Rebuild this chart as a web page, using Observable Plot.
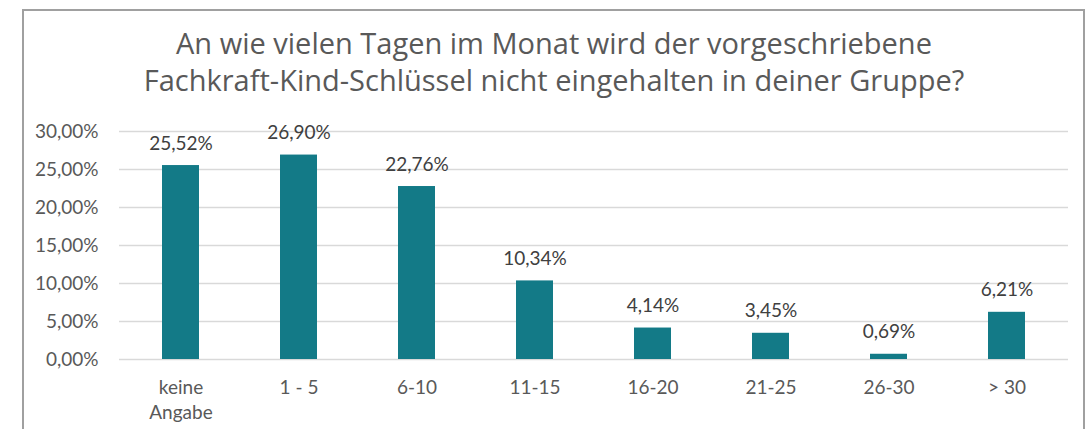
<!DOCTYPE html>
<html>
<head>
<meta charset="utf-8">
<script src="https://cdn.jsdelivr.net/npm/d3@7"></script>
<script src="https://cdn.jsdelivr.net/npm/@observablehq/plot@0.6"></script>
<style>
  html, body { margin: 0; padding: 0; background: #fff; }
  #wrap { position: relative; width: 1091px; height: 429px; overflow: hidden; }
  #frame { position: absolute; left: 22px; top: 9px; width: 1063px; height: 440px; border: 2px solid #a0a0a0; box-sizing: border-box; }
  #title { position: absolute; left: 23px; top: 24px; width: 1062px; text-align: center;
    font-family: "Open Sans", sans-serif; font-size: 29px; line-height: 37px; color: #595959; }
  #chart { position: absolute; left: 0; top: 0; }
</style>
</head>
<body>
<div id="wrap">
  <div id="frame"></div>
  <div id="chart"></div>
  <div id="title">An wie vielen Tagen im Monat wird der vorgeschriebene<br>Fachkraft-Kind-Schlüssel nicht eingehalten in deiner Gruppe?</div>
</div>
<script>
const categories = ["keine Angabe", "1 - 5", "6-10", "11-15", "16-20", "21-25", "26-30", "> 30"];
const tickLabels = ["keine\nAngabe", "1 - 5", "6-10", "11-15", "16-20", "21-25", "26-30", "> 30"];
const values = [0.2552, 0.2690, 0.2276, 0.1034, 0.0414, 0.0345, 0.0069, 0.0621];
const yTicks = [0, 0.05, 0.10, 0.15, 0.20, 0.25, 0.30];

const locale = d3.formatLocale({decimal: ",", thousands: ".", grouping: [3], currency: ["", " €"], percent: "%"});
const pct = locale.format(".2%");

const data = categories.map((c, i) => ({cat: c, value: values[i]}));
const labelMap = new Map(categories.map((c, i) => [c, tickLabels[i]]));

const font = "'Lato', 'Open Sans', sans-serif";

const chart = Plot.plot({
  width: 1091,
  height: 429,
  marginLeft: 119,
  marginRight: 23,
  marginTop: 131,
  marginBottom: 70,
  style: {fontFamily: font, fontSize: "19px", color: "#595959", background: "transparent"},
  x: {domain: categories, paddingInner: 0.69, paddingOuter: 0.345, label: null},
  y: {domain: [0, 0.30], label: null},
  marks: [
    Plot.gridY(yTicks, {stroke: "#d9d9d9", strokeOpacity: 1, strokeWidth: 1.5}),
    Plot.axisY({ticks: yTicks, tickFormat: pct, tickSize: 0, tickPadding: 21, fontSize: 19, fill: "#595959", label: null}),
    Plot.axisX({tickFormat: d => labelMap.get(d), tickSize: 0, tickPadding: 17, fontSize: 19, fill: "#595959", label: null, lineHeight: 1.3}),
    Plot.barY(data, {x: "cat", y: "value", fill: "#137a87"}),
    Plot.text(data, {x: "cat", y: "value", text: d => pct(d.value), dy: -22, fontSize: 19, fill: "#404040"})
  ]
});
document.getElementById("chart").appendChild(chart);
</script>
</body>
</html>
